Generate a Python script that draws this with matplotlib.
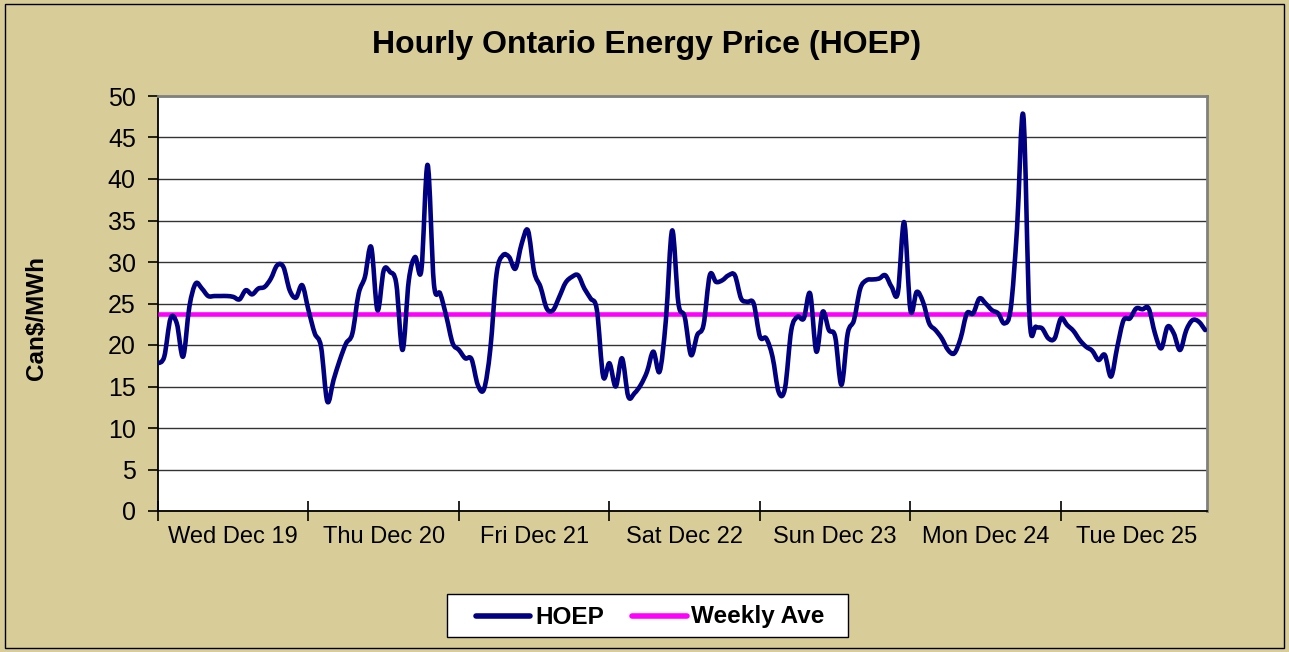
import numpy as np
import matplotlib
matplotlib.use("Agg")
import matplotlib.pyplot as plt
from matplotlib.path import Path
from matplotlib.patches import PathPatch, Rectangle
from matplotlib.lines import Line2D

plt.rcParams['font.family'] = ['Liberation Sans', 'DejaVu Sans']

title = "Hourly Ontario Energy Price (HOEP)"
ylabel = "Can$/MWh"
day_labels = ["Wed Dec 19", "Thu Dec 20", "Fri Dec 21", "Sat Dec 22",
              "Sun Dec 23", "Mon Dec 24", "Tue Dec 25"]
series_names = ["HOEP", "Weekly Ave"]

# hourly prices, 168 hours (Wed Dec 19 00:00 .. Tue Dec 25 23:00)
hoep_wed = [17.8, 18.6, 23.2, 22.6, 18.6, 24.6, 27.4, 26.8, 25.9, 25.9, 25.9, 25.9,
            25.8, 25.5, 26.6, 26.1, 26.8, 27.0, 28.0, 29.6, 29.4, 26.6, 25.7, 27.2]
hoep_thu = [24.2, 21.4, 19.8, 13.2, 15.8, 18.2, 20.2, 21.4, 26.2, 28.2, 31.8, 24.2,
            29.0, 28.8, 27.4, 19.4, 27.8, 30.6, 29.0, 41.7, 27.4, 26.2, 23.4, 20.2]
hoep_fri = [19.4, 18.4, 18.3, 15.2, 14.7, 19.5, 28.6, 30.8, 30.6, 29.2, 32.2, 33.8,
            28.8, 27.0, 24.4, 24.2, 25.8, 27.5, 28.2, 28.4, 26.8, 25.6, 24.2, 16.2]
hoep_sat = [17.8, 15.0, 18.4, 13.8, 14.2, 15.2, 16.8, 19.2, 16.8, 23.0, 33.8, 25.0,
            23.4, 18.8, 21.2, 22.4, 28.4, 27.6, 27.8, 28.4, 28.4, 25.6, 25.2, 25.0]
hoep_sun = [21.0, 20.8, 18.6, 14.3, 14.8, 21.8, 23.4, 23.2, 26.2, 19.2, 24.0, 21.8,
            21.0, 15.2, 21.4, 23.0, 26.8, 27.8, 27.9, 28.0, 28.4, 27.0, 26.3, 34.8]
hoep_mon = [24.2, 26.4, 25.2, 22.6, 21.8, 20.8, 19.4, 19.0, 20.8, 23.8, 23.8, 25.6,
            25.0, 24.2, 23.8, 22.6, 24.4, 34.0, 47.7, 23.2, 22.2, 22.0, 20.8, 20.8]
hoep_tue = [23.2, 22.4, 21.7, 20.6, 19.8, 19.3, 18.2, 18.8, 16.2, 19.8, 23.0, 23.2,
            24.4, 24.3, 24.4, 21.4, 19.6, 22.2, 21.4, 19.4, 21.8, 23.0, 22.8, 21.8]
weekly_ave = 23.7

hoep = np.array(hoep_wed + hoep_thu + hoep_fri + hoep_sat + hoep_sun + hoep_mon + hoep_tue)
hours = np.arange(len(hoep))

W, H = 1289, 652
fig = plt.figure(figsize=(W / 100, H / 100), dpi=100)
bg = '#D8CD99'
fig.patch.set_facecolor(bg)
fig.patches.append(Rectangle((5 / W, 4 / H), 1279 / W, 644 / H, transform=fig.transFigure,
                             fill=False, edgecolor='black', lw=1))

L, R, T, B = 158, 1207, 96, 511
ax = fig.add_axes([L / W, 1 - B / H, (R - L) / W, (B - T) / H])
ax.set_facecolor('white')

HOEP_COLOR = '#000080'
AVE_COLOR = '#FF00FF'


# smoothed line (Excel-like Bezier through the points)
def bezier_path(x, y):
    n = len(x)
    verts = [(x[0], y[0])]
    codes = [Path.MOVETO]
    for i in range(n - 1):
        xm1, ym1 = (x[i - 1], y[i - 1]) if i > 0 else (x[i], y[i])
        xp2, yp2 = (x[i + 2], y[i + 2]) if i + 2 < n else (x[i + 1], y[i + 1])
        c1 = (x[i] + (x[i + 1] - xm1) / 6, y[i] + (y[i + 1] - ym1) / 6)
        c2 = (x[i + 1] - (xp2 - x[i]) / 6, y[i + 1] - (yp2 - y[i]) / 6)
        verts += [c1, c2, (x[i + 1], y[i + 1])]
        codes += [Path.CURVE4] * 3
    return Path(verts, codes)


ax.add_patch(PathPatch(bezier_path(hours, hoep), facecolor='none', edgecolor=HOEP_COLOR,
                       lw=3.3, capstyle='round', joinstyle='round', zorder=4))
ax.plot([hours[0], 167.3], [weekly_ave, weekly_ave], color=AVE_COLOR, lw=3.3, zorder=3,
        solid_capstyle='butt')

ax.set_xlim(0, 167.3)
ax.set_ylim(0, 50)
ax.set_yticks(np.arange(0, 51, 5))
ax.yaxis.grid(True, color='#333333', lw=1)
ax.set_axisbelow(True)
ax.set_xticks(np.arange(0, 168, 24))
ax.set_xticklabels([])
ax.set_xticks(np.arange(12, 168, 24), minor=True)
ax.set_xticklabels(day_labels, minor=True)
ax.tick_params(axis='x', which='major', direction='inout', length=14, width=1.2, color='black')
ax.tick_params(axis='x', which='minor', length=0, pad=11, labelsize=17)
ax.tick_params(axis='y', direction='out', length=7, width=1.2, color='black', labelsize=18,
               pad=9)

for s in ['top', 'right']:
    ax.spines[s].set_color('#808080')
    ax.spines[s].set_linewidth(2)
for s in ['left', 'bottom']:
    ax.spines[s].set_color('black')
    ax.spines[s].set_linewidth(1.3)

fig.text(647 / W, 1 - 45 / H, title, ha='center', va='center', fontsize=23, fontweight='bold')
fig.text(37 / W, 1 - 318 / H, ylabel, ha='center', va='center', rotation=90,
         fontsize=17.5, fontweight='bold')

# legend box drawn in figure pixels
def fx(px):
    return px / W


def fy(py):
    return 1 - py / H


fig.patches.append(Rectangle((fx(447), fy(637)), (848 - 447) / W, (637 - 594) / H,
                             transform=fig.transFigure, facecolor='white',
                             edgecolor='black', lw=1, zorder=5))
leg_y = 616
for (x0, x1, tx), name, col in zip([(476, 530, 535), (632, 687, 691)], series_names,
                                   [HOEP_COLOR, AVE_COLOR]):
    fig.add_artist(Line2D([fx(x0), fx(x1)], [fy(leg_y), fy(leg_y)], color=col, lw=4,
                          solid_capstyle='round', transform=fig.transFigure, zorder=6))
    fig.text(fx(tx), fy(leg_y + 1), name, ha='left', va='center', fontsize=17.5,
             fontweight='bold', zorder=6)

fig.savefig('out.png', dpi=100, facecolor=bg)
